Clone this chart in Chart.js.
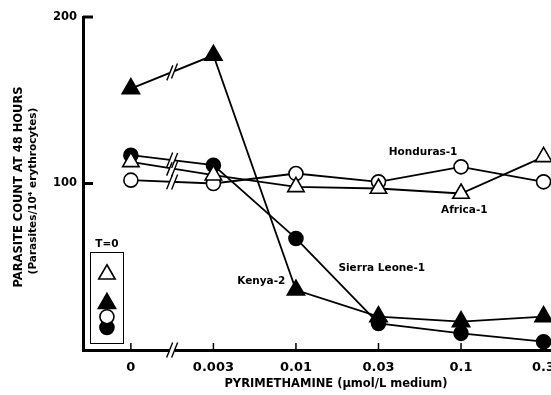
<!DOCTYPE html>
<html><head><meta charset="utf-8">
<script src="https://cdn.jsdelivr.net/npm/chart.js@4.4.0/dist/chart.umd.min.js"></script>
<style>html,body{margin:0;padding:0;background:#fff;}#wrap{width:551px;height:395px;position:relative;}</style>
</head><body><div id="wrap"><canvas id="c"></canvas></div>
<script>
// ---- data ----
const categories = ['0', '0.003', '0.01', '0.03', '0.1', '0.3'];
const yTicks = [100, 200];
const honduras = [102, 100, 106, 101, 110, 101];
const africa = [113, 105, 98, 97, 94, 116];
const kenya = [157, 177, 36, 20, 17, 20];
const sierraLeone = [117, 111, 67, 16, 10, 5];
const t0Series = ['Kenya-2', 'Sierra Leone-1', 'Africa-1', 'Honduras-1'];
const t0Values = [28, 13.5, 45.5, 20];
const seriesNames = ['Africa-1', 'Honduras-1', 'Kenya-2', 'Sierra Leone-1'];

const FONT = '"DejaVu Sans", "Liberation Sans", Arial, sans-serif';
const styleFor = {
  'Honduras-1': {pointStyle: 'circle', radius: 7, bg: '#fff'},
  'Africa-1': {pointStyle: 'triangle', radius: 9.5, bg: '#fff'},
  'Kenya-2': {pointStyle: 'triangle', radius: 10, bg: '#000'},
  'Sierra Leone-1': {pointStyle: 'circle', radius: 7, bg: '#000'}
};
const valuesFor = {'Honduras-1': honduras, 'Africa-1': africa, 'Kenya-2': kenya, 'Sierra Leone-1': sierraLeone};
const T0X = -0.29;

const t0Dataset = {
  label: 'T=0',
  data: t0Values.map(v => ({x: T0X, y: v})),
  showLine: false,
  pointStyle: t0Series.map(n => styleFor[n].pointStyle),
  pointRadius: t0Series.map(n => styleFor[n].radius),
  pointBackgroundColor: t0Series.map(n => styleFor[n].bg),
  pointBorderColor: '#000',
  pointBorderWidth: 1.6
};
const mainDatasets = seriesNames.map(n => ({
  label: n,
  data: categories.map((_, i) => ({x: i, y: valuesFor[n][i]})),
  borderColor: '#000',
  borderWidth: 1.8,
  pointStyle: styleFor[n].pointStyle,
  pointRadius: styleFor[n].radius,
  pointBackgroundColor: styleFor[n].bg,
  pointBorderColor: '#000',
  pointBorderWidth: 1.6,
  tension: 0
}));

const overlay = {
  id: 'overlay',
  afterDatasetsDraw(chart) {
    const {ctx, scales: {x, y}, chartArea: ca} = chart;
    ctx.save();
    ctx.strokeStyle = '#000';
    ctx.lineCap = 'butt';
    // inward tick marks
    ctx.lineWidth = 3;
    yTicks.forEach(v => {
      const py = y.getPixelForValue(v);
      ctx.beginPath(); ctx.moveTo(ca.left, py); ctx.lineTo(ca.left + 10, py); ctx.stroke();
    });
    ctx.lineWidth = 1.5;
    categories.forEach((_, i) => {
      const px = x.getPixelForValue(i);
      ctx.beginPath(); ctx.moveTo(px, ca.bottom); ctx.lineTo(px, ca.bottom - 7); ctx.stroke();
    });
    // break marks
    const xb = x.getPixelForValue(0.5);
    function slashes(cx, cy, ux, uy, gapW, lw) {
      ctx.strokeStyle = '#fff';
      ctx.lineWidth = gapW;
      ctx.beginPath(); ctx.moveTo(cx - 2.5 * ux, cy - 2.5 * uy); ctx.lineTo(cx + 2.5 * ux, cy + 2.5 * uy); ctx.stroke();
      ctx.strokeStyle = '#000';
      ctx.lineWidth = lw;
      [-2.5, 2.5].forEach(o => {
        const sx = cx + o * ux, sy = cy + o * uy;
        ctx.beginPath(); ctx.moveTo(sx - 3, sy + 7.5); ctx.lineTo(sx + 3, sy - 7.5); ctx.stroke();
      });
    }
    seriesNames.forEach(n => {
      const v = valuesFor[n];
      const x0 = x.getPixelForValue(0), y0 = y.getPixelForValue(v[0]);
      const x1 = x.getPixelForValue(1), y1 = y.getPixelForValue(v[1]);
      const len = Math.hypot(x1 - x0, y1 - y0);
      const ux = (x1 - x0) / len, uy = (y1 - y0) / len;
      const t = (xb - x0) / (x1 - x0);
      slashes(xb, y0 + t * (y1 - y0), ux, uy, 4, 1.4);
    });
    slashes(xb, ca.bottom, 1, 0, 5, 1.4);
    ctx.restore();
  },
  afterDraw(chart) {
    const {ctx, scales: {x, y}, chartArea: ca} = chart;
    ctx.save();
    ctx.fillStyle = '#000';
    ctx.textAlign = 'center';
    ctx.textBaseline = 'middle';
    // series annotations
    ctx.font = 'bold 10.5px ' + FONT;
    [
      {text: 'Honduras-1', x: 3.54, y: 119},
      {text: 'Africa-1', x: 4.04, y: 84},
      {text: 'Sierra Leone-1', x: 3.04, y: 49},
      {text: 'Kenya-2', x: 1.58, y: 41}
    ].forEach(a => ctx.fillText(a.text, x.getPixelForValue(a.x), y.getPixelForValue(a.y)));
    // T=0 box
    const bx = x.getPixelForValue(T0X);
    ctx.fillText('T=0', bx, y.getPixelForValue(63.7));
    ctx.strokeStyle = '#000';
    ctx.lineWidth = 1;
    const bt = Math.round(y.getPixelForValue(59)) + 0.5, bb = Math.round(y.getPixelForValue(4.2)) + 0.5;
    ctx.strokeRect(Math.round(bx - 16.5) + 0.5, bt, 33, bb - bt);
    // axis titles
    ctx.font = 'bold 11.5px ' + FONT;
    ctx.fillText('PYRIMETHAMINE (\u03bcmol/L medium)', 336, 384);
    ctx.save();
    ctx.translate(19, 187);
    ctx.rotate(-Math.PI / 2);
    ctx.fillText('PARASITE COUNT AT 48 HOURS', 0, 0);
    ctx.restore();
    ctx.save();
    ctx.translate(33, 191);
    ctx.rotate(-Math.PI / 2);
    ctx.font = 'bold 10.5px ' + FONT;
    ctx.fillText('(Parasites/10\u2074 erythrocytes)', 0, 0);
    ctx.restore();
    ctx.restore();
  }
};

new Chart(document.getElementById('c'), {
  type: 'line',
  data: {datasets: [t0Dataset, ...mainDatasets]},
  plugins: [overlay],
  options: {
    responsive: true,
    maintainAspectRatio: false,
    animation: false,
    layout: {autoPadding: false, padding: {top: 17, left: 0, right: 0, bottom: 0}},
    plugins: {legend: {display: false}, tooltip: {enabled: false}},
    scales: {
      x: {
        type: 'linear',
        min: -0.58,
        max: 5.09,
        grid: {display: false, drawTicks: false},
        border: {display: true, color: '#000', width: 3},
        afterBuildTicks(s) { s.ticks = categories.map((_, i) => ({value: i})); },
        afterFit(s) { s.height = 45; s.paddingLeft = 0; s.paddingRight = 0; },
        ticks: {
          color: '#000',
          padding: 10,
          maxRotation: 0,
          autoSkip: false,
          font: {family: FONT, weight: 'bold', size: 13},
          callback: (v) => categories[v] !== undefined ? categories[v] : ''
        }
      },
      y: {
        type: 'linear',
        min: 0,
        max: 200,
        grid: {display: false, drawTicks: false},
        border: {display: true, color: '#000', width: 3},
        afterBuildTicks(s) { s.ticks = yTicks.map(v => ({value: v})); },
        afterFit(s) { s.width = 83; s.paddingTop = 0; s.paddingBottom = 0; },
        ticks: {
          color: '#000',
          padding: 6,
          font: {family: FONT, weight: 'bold', size: 11.5}
        }
      }
    }
  }
});
</script>
</body></html>
